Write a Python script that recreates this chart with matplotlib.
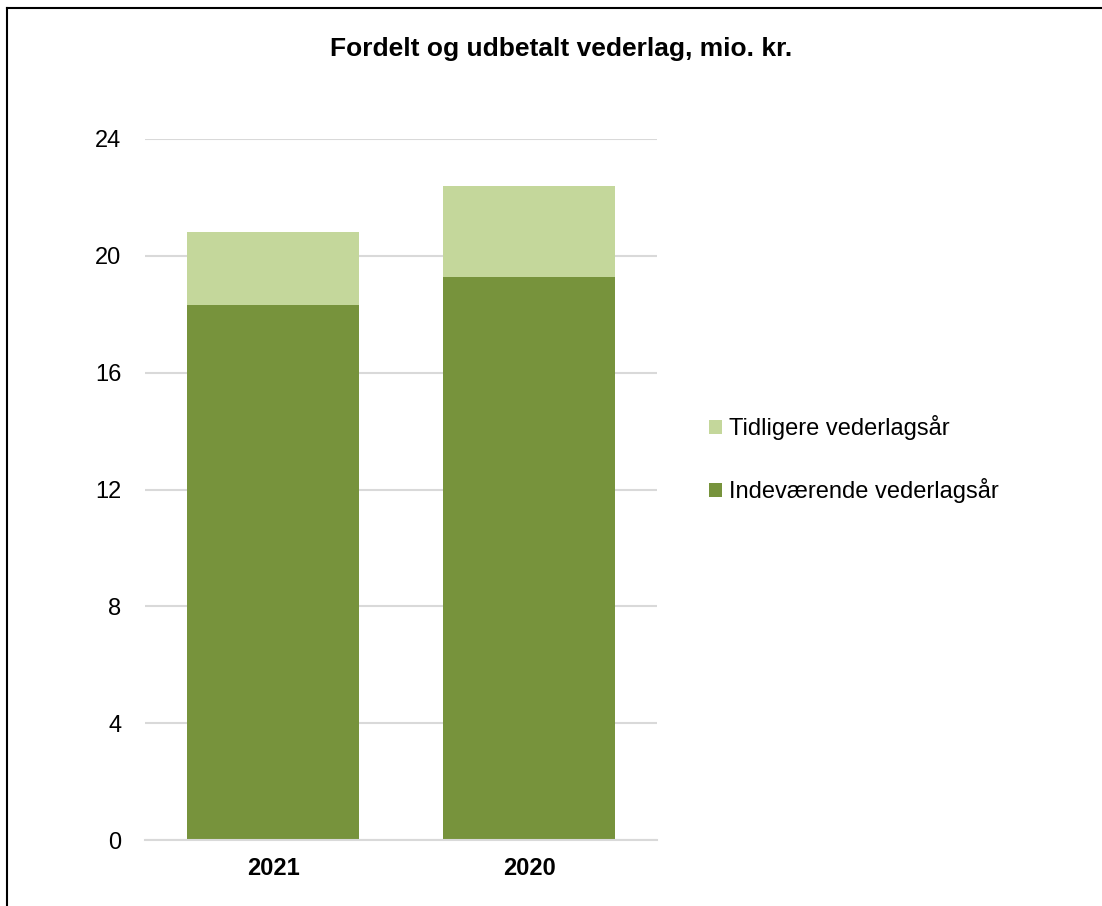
import matplotlib
matplotlib.use('Agg')
import matplotlib.pyplot as plt
from matplotlib.lines import Line2D

years = ['2021', '2020']
indevaerende = [18.32, 19.26]
tidligere = [2.50, 3.14]
y_ticks = [0, 4, 8, 12, 16, 20, 24]

plt.rcParams['font.family'] = ['Liberation Sans', 'DejaVu Sans']

fig = plt.figure(figsize=(11.02, 9.06), dpi=100)
ax = fig.add_axes([0.1316, 0.0728, 0.4646, 0.7738])

x = range(len(years))
b1 = ax.bar(x, indevaerende, width=0.67, color='#77933C', label='Indeværende vederlagsår', zorder=2)
b2 = ax.bar(x, tidligere, width=0.67, bottom=indevaerende, color='#C4D79B', label='Tidligere vederlagsår', zorder=2)

ax.set_xlim(-0.5, 1.5)
ax.set_ylim(0, 24)
ax.set_yticks(y_ticks)
ax.set_xticks(list(x))
ax.set_xticklabels(years, fontsize=17, fontweight='bold')
ax.tick_params(axis='y', labelsize=17, length=0, pad=17)
ax.tick_params(axis='x', length=0, pad=12)
ax.grid(axis='y', color='#D9D9D9', linewidth=1.5, zorder=0)
for s in ['top', 'right', 'left']:
    ax.spines[s].set_visible(False)
ax.spines['bottom'].set_color('#D9D9D9')
ax.spines['bottom'].set_linewidth(1.5)

fig.text(0.509, 0.946, 'Fordelt og udbetalt vederlag, mio. kr.', ha='center', va='center',
         fontsize=19, fontweight='bold')

fig.legend(handles=[b2, b1], loc='center left', bbox_to_anchor=(0.624, 0.493), frameon=False,
           fontsize=17, handlelength=0.55, handleheight=0.55, handletextpad=0.3, labelspacing=1.6)

# outer frame
fig.add_artist(Line2D([0.0065, 0.0065], [0, 0.991], transform=fig.transFigure, color='black', lw=1.5))
fig.add_artist(Line2D([0.0065, 1.0], [0.991, 0.991], transform=fig.transFigure, color='black', lw=1.5))

fig.savefig('out.png', dpi=100)
